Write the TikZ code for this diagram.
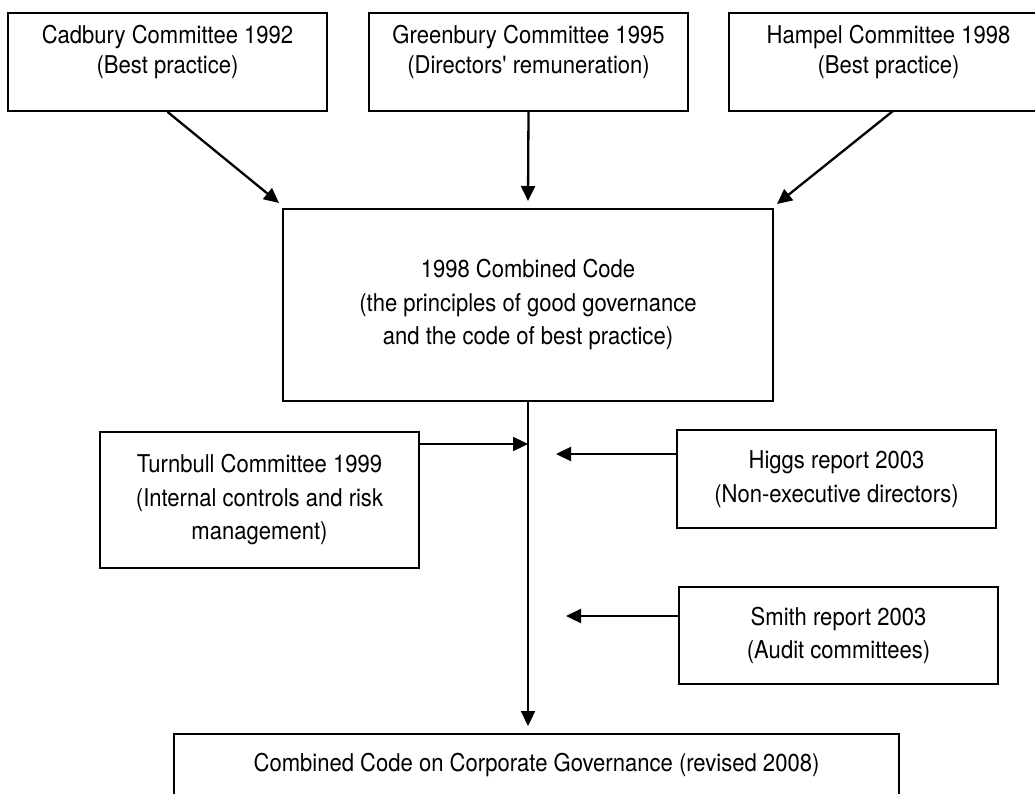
\documentclass[tikz,border=0pt]{standalone}
\usepackage{fontspec}
\setmainfont{TeX Gyre Heros}[FakeStretch=0.9, Ligatures=TeXOff]
\usetikzlibrary{arrows.meta}
\begin{document}
\begin{tikzpicture}[x=1pt, y=-1pt,
  box/.style={draw, line width=1.8pt, inner sep=0pt, align=center,
    font=\fontsize{24.5}{33.5}\selectfont},
  topbox/.style={box, minimum width=319pt, minimum height=98pt,
    font=\fontsize{24.5}{30}\selectfont},
  flow/.style={line width=2.3pt, -{Triangle[length=15pt, width=14pt]}}]
\useasboundingbox (0,0) rectangle (1035,794);

% committees feeding the 1998 code (text sits in the upper part of each box)
\node[topbox] (cad) at (167.5,62)
  {Cadbury Committee 1992\\(Best practice)\\[-5pt]\mbox{}};
\node[topbox] (green) at (528.5,62)
  {Greenbury Committee 1995\\(Directors' remuneration)\\[-5pt]\mbox{}};
\node[topbox] (hampel) at (888.5,62)
  {Hampel Committee 1998\\(Best practice)\\[-5pt]\mbox{}};

\node[box, minimum width=490pt, minimum height=192pt] (comb) at (528,305)
  {1998 Combined Code\\(the principles of good governance\\and the code of best practice)};

% later reports
\node[box, minimum width=319pt, minimum height=136pt] (turn) at (259.5,500)
  {Turnbull Committee 1999\\(Internal controls and risk\\management)};
\node[box, minimum width=319pt, minimum height=98pt] (higgs) at (836.5,479)
  {Higgs report 2003\\(Non-executive directors)};
\node[box, minimum width=319pt, minimum height=97pt] (smith) at (838.5,635.5)
  {Smith report 2003\\(Audit committees)};

\node[box, minimum width=725pt, minimum height=100pt] (final) at (536.5,784)
  {Combined Code on Corporate Governance (revised 2008)\\\strut};

% arrow end points
\coordinate (cadTip) at (279,203);
\coordinate (greenTip) at (528,201);
\coordinate (hampelOut) at (893,111);
\coordinate (hampelTip) at (777,204);
\coordinate (turnTip) at (528,444);
\coordinate (higgsTip) at (556,454);
\coordinate (smithTip) at (566,616);
\coordinate (finalTip) at (528,726);

% connectors
\draw[flow] (cad.south) -- (cadTip);
\draw[flow] (green.south) -- (greenTip);
\draw[flow] (hampelOut) -- (hampelTip);
\draw[flow] (comb.south) -- (finalTip);
\draw[flow] (turn.east |- turnTip) -- (turnTip);
\draw[flow] (higgs.west |- higgsTip) -- (higgsTip);
\draw[flow] (smith.west |- smithTip) -- (smithTip);
\end{tikzpicture}
\end{document}
